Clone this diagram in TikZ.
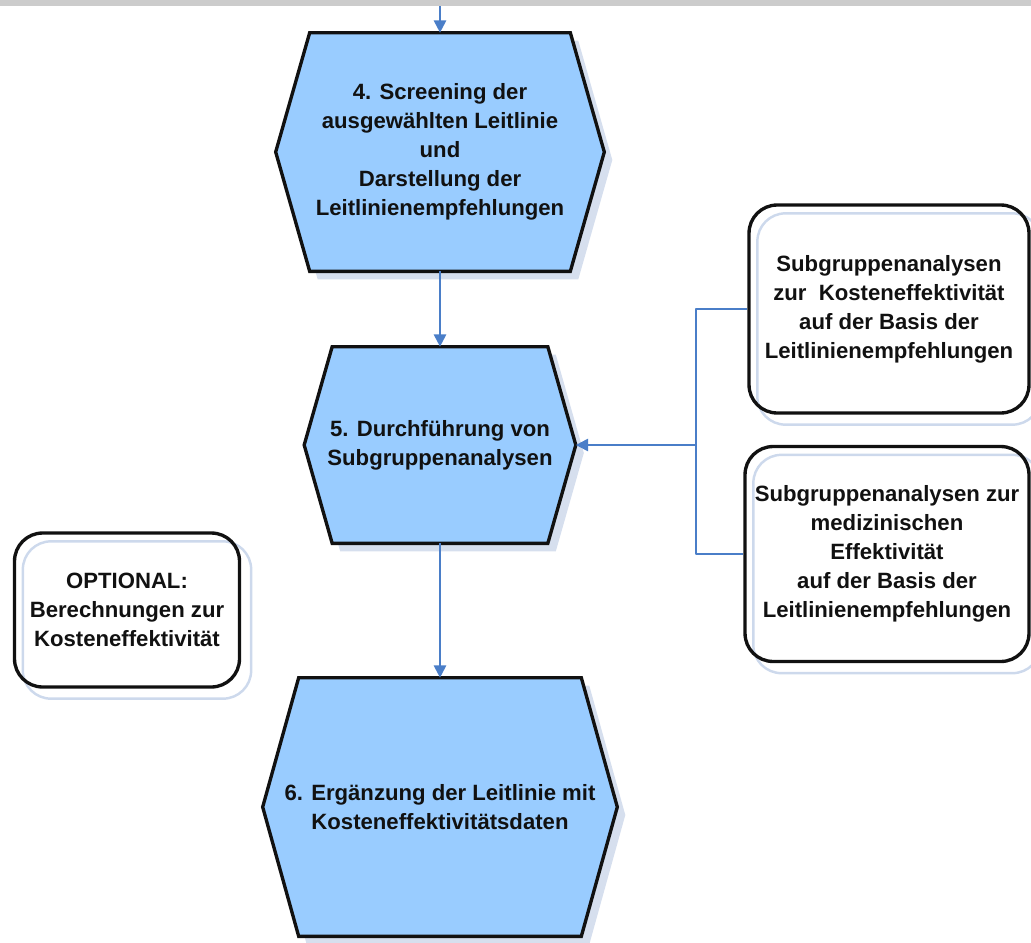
\documentclass[tikz,border=0pt]{standalone}
\usepackage{fontspec}
\setmainfont{Liberation Sans}
\usetikzlibrary{arrows.meta,backgrounds}
\definecolor{ink}{HTML}{111111}
\definecolor{stepfill}{HTML}{99CCFF}
\definecolor{link}{HTML}{4A7EC8}
\definecolor{stepshadow}{HTML}{D6DFEE}
\definecolor{ghost}{HTML}{CDD9EC}
\definecolor{band}{HTML}{CCCCCC}

% hexagon frame round a named node: #1 node, #2 chamfer, #3 offset (px)
\newcommand{\hexframe}[3]{%
  ([xshift=#2*0.02cm+#3*0.02cm,yshift=-#3*0.02cm]#1.north west)
  -- ([xshift=-#2*0.02cm+#3*0.02cm,yshift=-#3*0.02cm]#1.north east)
  -- ([xshift=#3*0.02cm,yshift=-#3*0.02cm]#1.east)
  -- ([xshift=-#2*0.02cm+#3*0.02cm,yshift=-#3*0.02cm]#1.south east)
  -- ([xshift=#2*0.02cm+#3*0.02cm,yshift=-#3*0.02cm]#1.south west)
  -- ([xshift=#3*0.02cm,yshift=-#3*0.02cm]#1.west) -- cycle}

\begin{document}
\begin{tikzpicture}[x=0.02cm,y=-0.02cm,
  font=\fontsize{12.6}{16.5}\selectfont\bfseries,text=ink,
  >={Triangle[length=7pt,width=7pt]},line join=round,
  steptext/.style={align=center,inner sep=0pt},
  notebox/.style={draw=ink,line width=1.9pt,rounded corners=16pt,align=center,inner sep=0pt},
  flow/.style={link,line width=1.1pt}]
  \useasboundingbox (0,0) rectangle (1031,943);
  \fill[band] (0,0) rectangle (1031,6);

  % process steps
  \node[steptext,minimum width=6.56cm,minimum height=4.76cm] (s4) at (440,152)
    {4. Screening der\\ausgewählten Leitlinie\\und\\Darstellung der\\Leitlinienempfehlungen};
  \node[steptext,minimum width=5.42cm,minimum height=3.92cm] (s5) at (440,445)
    {5. Durchführung von\\Subgruppenanalysen};
  \node[steptext,minimum width=7.08cm,minimum height=5.16cm] (s6) at (440,807)
    {6. Ergänzung der Leitlinie mit\\Kosteneffektivitätsdaten};

  % side notes
  \node[notebox,minimum width=5.6cm,minimum height=4.16cm] (sub1) at (889,309)
    {Subgruppenanalysen\\zur\ \ Kosteneffektivität\\auf der Basis der\\Leitlinienempfehlungen};
  \node[notebox,minimum width=5.68cm,minimum height=4.3cm] (sub2) at (887,554)
    {Subgruppenanalysen zur\\medizinischen\\Effektivität\\auf der Basis der\\Leitlinienempfehlungen};
  \node[notebox,minimum width=4.5cm,minimum height=3.08cm] (opt) at (127,610)
    {OPTIONAL:\\Berechnungen zur\\Kosteneffektivität};

  \begin{scope}[on background layer]
    \foreach \s/\c in {s4/34,s5/28,s6/36}{
      \fill[stepshadow] \hexframe{\s}{\c}{8};
      \draw[ink,fill=stepfill,line width=1.9pt] \hexframe{\s}{\c}{0};
    }
    \foreach \b in {sub1,sub2,opt}
      \draw[ghost,line width=1.4pt,rounded corners=16pt]
        ([shift={(10,10)}]\b.north west) rectangle ([shift={(10,10)}]\b.south east);
  \end{scope}

  \coordinate (in) at (440,6);
  \draw[flow,->] (in) -- (s4.north);
  \draw[flow,->] (s4.south) -- (s5.north);
  \draw[flow,->] (s5.south) -- (s6.north);
  \draw[flow] (sub1.west) -- ++(-51,0) coordinate (fork) |- (sub2.west);
  \draw[flow,->] (fork |- s5.east) -- (s5.east);
\end{tikzpicture}
\end{document}
